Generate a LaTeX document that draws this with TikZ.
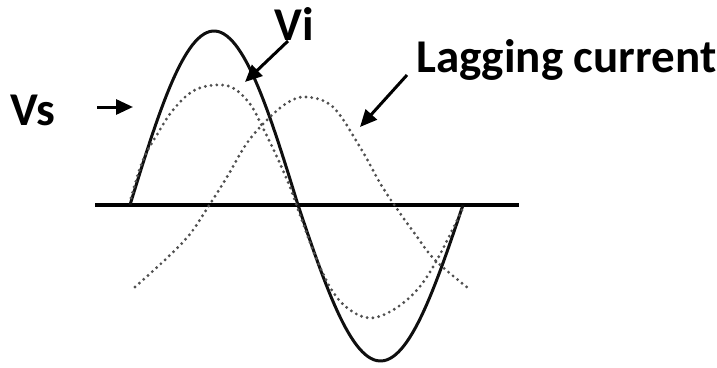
\documentclass[tikz,border=0pt]{standalone}
\usepackage{fontspec}
\setmainfont{Carlito}
\usetikzlibrary{arrows.meta}
\definecolor{wLine}{RGB}{15,15,15}
\definecolor{wDot}{RGB}{80,80,80}
\tikzset{
  axisline/.style={draw=black, line width=4.2pt},
  wave/.style={draw=wLine, line width=3pt},
  dotwave/.style={draw=wDot, line width=3.2pt, line cap=round,
                  dash pattern=on 0pt off 5.8pt},
  pointer/.style={-{Triangle[length=17pt,width=15pt]}, draw=black, line width=3pt},
  lbl/.style={font=\fontsize{47}{50}\selectfont\bfseries, inner sep=0pt},
}

\begin{document}
\begin{tikzpicture}[x=1pt, y=-1pt]
  \useasboundingbox (0,0) rectangle (717,367);

  % ---- labels ----
  \node[lbl, anchor=base] (vs) at (33,125) {Vs};
  \node[lbl, anchor=base] (vi) at (294,40) {Vi};
  \node[lbl, anchor=base west] (lag) at (416,72) {Lagging current};

  % ---- time axis ----
  \coordinate (axL) at (95,205);
  \coordinate (axR) at (519,205);
  \draw[axisline] (axL) -- (axR);

  % ---- supply voltage Vs (solid) ----
  \draw[wave] plot[domain=130:298, samples=60] (\x,{205-174*sin((\x-130)/168*180)})
    -- plot[domain=298:463, samples=60] (\x,{205+156*sin((\x-298)/165*180)});

  % ---- Vi (dotted, in phase) ----
  \draw[dotwave] plot[smooth, tension=0.6] coordinates {
    (131,198) (143,160) (158,133) (173,110) (193,91) (215,85) (233,88)
    (250,104) (263,128) (277,157) (290,187) (300,215) (317,260) (333,292)
    (350,310) (370,318) (393,310) (417,290) (437,260) (462,210)};

  % ---- lagging current (dotted) ----
  \draw[dotwave] plot[smooth, tension=0.6] coordinates {
    (135,287) (167,258) (190,234) (210,204) (227,177) (247,143) (267,120)
    (287,103) (306,97) (333,107) (360,147) (380,183) (395,206) (415,234)
    (435,260) (468,288)};

  % ---- pointers ----
  \coordinate (vsTail) at (97,107);
  \coordinate (vsTip) at (133,107);
  \coordinate (viTail) at (288,41);
  \coordinate (viTip) at (245,82);
  \coordinate (lagTail) at (407,75);
  \coordinate (lagTip) at (360,127);
  \draw[pointer] (vsTail) -- (vsTip);
  \draw[pointer] (viTail) -- (viTip);
  \draw[pointer] (lagTail) -- (lagTip);

\end{tikzpicture}
\end{document}
